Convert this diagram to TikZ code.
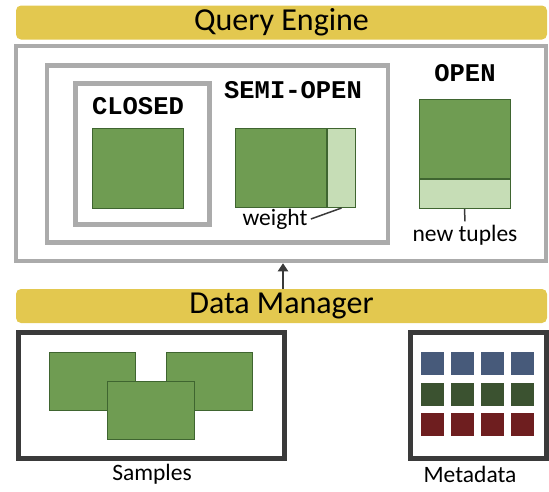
\documentclass[tikz,border=0pt]{standalone}
\usepackage{fontspec}
\setmainfont{Carlito}
\newfontfamily\modefont{Liberation Mono}
\usetikzlibrary{arrows.meta}

\definecolor{barYellow}{HTML}{E3C84F}
\definecolor{frameGray}{HTML}{ABABAB}
\definecolor{storeDark}{HTML}{3A3A3A}
\definecolor{tupleGreen}{HTML}{6F9C52}
\definecolor{tupleEdge}{HTML}{3F6530}
\definecolor{freshGreen}{HTML}{C6DDB6}
\definecolor{metaBlue}{HTML}{475A7A}
\definecolor{metaGreen}{HTML}{3B5230}
\definecolor{metaRed}{HTML}{6E1E1F}

\tikzset{
  layer/.style={fill=barYellow, rounded corners=5pt, inner sep=0pt,
    minimum width=531, minimum height=34, font=\fontsize{32}{32}\selectfont},
  frame/.style={draw=frameGray, line width=4.5pt, inner sep=0pt},
  store/.style={draw=storeDark, line width=5pt, inner sep=0pt},
  tuples/.style={draw=tupleEdge, fill=tupleGreen, line width=1pt, inner sep=0pt},
  fresh/.style={tuples, fill=freshGreen},
  mode/.style={font=\modefont\bfseries\fontsize{25.5}{25.5}\selectfont},
  caption/.style={font=\fontsize{23.5}{23.5}\selectfont},
  cell/.style={draw=white, line width=0.6pt, inner sep=0pt, minimum size=24}
}

\begin{document}
\begin{tikzpicture}[x=1pt, y=-1pt]
    \useasboundingbox (0,0) rectangle (549,491);

    \node[layer] (qe) at (281.5, 22.5) {Query Engine};
    \node[frame, minimum width=530, minimum height=215] (outer) at (281, 153.5) {};
    \node[frame, minimum width=341, minimum height=177] (semi) at (217.5, 154) {};
    \node[frame, minimum width=134, minimum height=141] (closed) at (142.5, 154) {};

    \node[mode] (closedlbl) at (138, 106) {CLOSED};
    \node[tuples, minimum width=91, minimum height=80] (closedsq) at (137.5, 168) {};

    \node[mode] (semilbl) at (293, 90) {SEMI-OPEN};
    \node[tuples, minimum width=91, minimum height=79, anchor=north west] (semisq) at (235, 128) {};
    \node[fresh, minimum width=28, minimum height=79, anchor=north west] (semilight) at (semisq.north east) {};
    \node[caption] (weight) at (275, 219) {weight};
    \draw[storeDark, line width=1.5pt] (weight.east) -- (semilight.south);

    \node[mode] (openlbl) at (465, 73) {OPEN};
    \node[tuples, minimum width=91, minimum height=79, anchor=north] (opensq) at (464.5, 99) {};
    \node[fresh, minimum width=91, minimum height=29, anchor=north] (openlight) at (opensq.south) {};
    \node[caption] (newtup) at (465, 235) {new tuples};
    \draw[storeDark, line width=1.5pt] (openlight.south) -- (newtup.north);

    \node[layer] (dm) at (281.5, 306) {Data Manager};
    \coordinate (ax) at (283, 0);
    \draw[storeDark, line width=2.5pt, -{Triangle[length=8pt, width=10pt]}] (dm.north -| ax) -- (outer.south -| ax);

    \node[store, minimum width=266, minimum height=126] (samples) at (151.5, 395) {};
    \node[tuples, minimum width=86, minimum height=58] (s1) at (92, 381) {};
    \node[tuples, minimum width=86, minimum height=58] (s2) at (209, 381) {};
    \node[tuples, minimum width=87, minimum height=58] (s3) at (150.5, 410) {};
    \node[caption] (sampleslbl) at (152, 474) {Samples};

    \node[store, minimum width=136, minimum height=126] (meta) at (478.5, 395) {};
    \foreach \c [count=\r] in {metaBlue, metaGreen, metaRed}
      \foreach \k in {0,...,3}
        \node[cell, fill=\c] (m\r\k) at (432.5 + 30*\k, 333 + 30.5*\r) {};
    \node[caption] (metalbl) at (470, 474) {Metadata};
\end{tikzpicture}
\end{document}
